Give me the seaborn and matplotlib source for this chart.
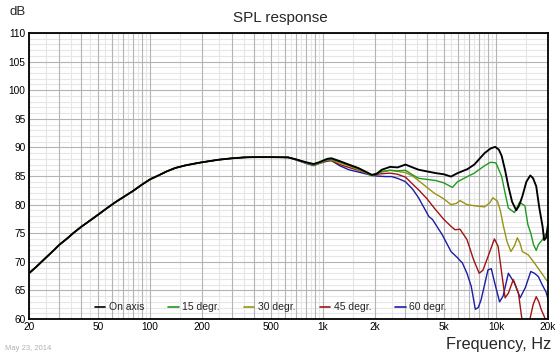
import numpy as np
import pandas as pd
import matplotlib
matplotlib.use("Agg")
import matplotlib.pyplot as plt
import seaborn as sns
from matplotlib.ticker import FixedLocator, NullFormatter
from matplotlib.lines import Line2D

# ---------------- data ----------------
series_names = ["On axis", "15 degr.", "30 degr.", "45 degr.", "60 degr."]
series_colors = ["#000000", "#1e9a1e", "#9a9212", "#9e1414", "#1c1ca6"]

freq_common = [20, 22, 25, 28, 30, 33, 36, 40, 45, 50, 56, 63, 71, 80, 90, 100,
               112, 125, 140, 160, 180, 200, 250, 300, 350, 400, 500, 630]
db_common = [68.0, 69.1, 70.7, 72.1, 73.0, 74.0, 75.0, 76.1, 77.2, 78.2, 79.3,
             80.4, 81.4, 82.4, 83.5, 84.4, 85.1, 85.8, 86.4, 86.85, 87.15, 87.4,
             87.85, 88.1, 88.25, 88.3, 88.3, 88.25]

freq_on = [700, 800, 884, 950, 1060, 1120, 1250, 1410, 1600, 1920, 2050, 2190,
           2450, 2700, 3000, 3300, 3570, 4000, 4500, 5000, 5500, 6000, 6840,
           7500, 8600, 9300, 9900, 10400, 10800, 11300, 11800, 12400, 13100,
           13600, 14200, 15000, 15800, 16400, 17100, 17800, 18600, 19000,
           19500, 20000]
db_on = [87.9, 87.4, 87.1, 87.4, 88.0, 88.1, 87.6, 87.0, 86.4, 85.2, 85.4, 86.1,
         86.6, 86.5, 87.0, 86.5, 86.1, 85.8, 85.5, 85.3, 84.9, 85.5, 86.2,
         87.0, 89.0, 89.8, 90.1, 89.6, 88.5, 86.0, 83.2, 80.5, 79.0,
         79.8, 81.4, 84.0, 85.1, 84.6, 83.2, 79.5, 76.2, 73.8,
         74.2, 76.5]

freq_15 = [700, 800, 884, 950, 1060, 1120, 1250, 1410, 1600, 1920, 2050, 2190,
           2450, 2700, 3000, 3300, 3570, 4000, 4500, 5000, 5600, 6000, 6840,
           7500, 8600, 9300, 10000, 10800, 11300, 11800, 12800, 13700, 14700,
           15300, 15900, 16500, 17100, 17600, 18600, 19300, 20000]
db_15 = [87.9, 87.3, 87.0, 87.3, 87.9, 87.9, 87.5, 86.9, 86.3, 85.1, 85.5, 85.8,
         86.0, 85.9, 86.0, 85.2, 84.6, 84.4, 84.2, 83.8, 83.0, 84.0, 84.9,
         85.5, 86.8, 87.4, 87.3, 84.9, 82.0, 79.4, 78.6, 80.4, 79.8,
         76.5, 75.0, 73.0, 72.0, 73.0, 73.9, 74.8, 75.2]

freq_30 = [700, 800, 884, 950, 1060, 1120, 1250, 1410, 1600, 1920, 2050, 2190,
           2450, 2700, 3000, 3300, 3570, 4000, 4400, 5000, 5500, 5900, 6200,
           6800, 7500, 8600, 9200, 9600, 10200, 10600, 11000, 11600, 12200,
           12800, 13300, 13800, 14200, 15400, 16500, 17800, 19500, 20000]
db_30 = [87.9, 87.3, 86.9, 87.2, 87.8, 87.8, 87.3, 86.8, 86.1, 85.1, 85.4, 85.7,
         86.0, 85.8, 85.6, 85.0, 84.2, 83.0, 82.0, 81.0, 80.0, 80.2, 80.7,
         80.0, 79.8, 79.6, 80.3, 81.2, 80.6, 79.0, 76.5, 73.5, 71.8,
         72.8, 74.2, 73.2, 71.8, 71.2, 70.0, 68.6, 66.9, 66.5]

freq_45 = [700, 800, 884, 950, 1060, 1120, 1250, 1410, 1600, 1920, 2050, 2190,
           2450, 2700, 3000, 3400, 3570, 4000, 4400, 5000, 5500, 5800, 6200,
           6800, 7400, 8000, 8400, 9000, 9800, 10300, 10800, 11300, 11800,
           12600, 13500, 14100, 14800, 15600, 16400, 17100, 17700, 18300,
           19000, 19500, 20000]
db_45 = [87.9, 87.3, 86.9, 87.2, 87.7, 87.7, 87.0, 86.5, 86.0, 85.1, 85.3, 85.4,
         85.5, 85.3, 84.8, 83.2, 82.6, 81.0, 79.4, 77.4, 76.2, 75.6, 75.7,
         73.9, 70.5, 68.0, 68.5, 70.9, 74.0, 72.7, 68.0, 63.7, 64.5,
         66.9, 64.5, 60.2, 58.5, 59.5, 62.5, 63.9, 63.0, 61.6,
         60.5, 59.5, 59.0]

freq_60 = [700, 800, 884, 950, 1060, 1120, 1250, 1410, 1600, 1920, 2050, 2300,
           2500, 2750, 3000, 3300, 3570, 4100, 4300, 4900, 5500, 6000, 6400,
           6800, 7200, 7600, 7900, 8200, 9000, 9400, 9900, 10500, 11000,
           11800, 12800, 13800, 14800, 15900, 16700, 17600, 18500, 19500,
           20000]
db_60 = [87.8, 87.2, 86.8, 87.2, 87.6, 87.7, 86.8, 86.1, 85.7, 85.1, 85.0, 84.9,
         84.9, 84.5, 84.0, 82.7, 81.2, 77.9, 77.4, 74.7, 71.8, 70.7, 69.8,
         68.0, 65.7, 61.7, 62.0, 63.3, 68.6, 68.8, 66.0, 63.0, 64.0,
         68.0, 66.3, 63.7, 65.5, 68.3, 68.0, 67.4, 66.0, 64.7,
         63.5]

x_tick_values = [20, 50, 100, 200, 500, 1000, 2000, 5000, 10000, 20000]
x_tick_labels = ["20", "50", "100", "200", "500", "1k", "2k", "5k", "10k", "20k"]
y_tick_values = [60, 65, 70, 75, 80, 85, 90, 95, 100, 105, 110]

# ---------------- build table ----------------
series_freqs = [freq_on, freq_15, freq_30, freq_45, freq_60]
series_dbs = [db_on, db_15, db_30, db_45, db_60]
frames = []
for name, fr, db in zip(series_names, series_freqs, series_dbs):
    frames.append(pd.DataFrame({"freq": list(freq_common) + list(fr),
                                "db": list(db_common) + list(db),
                                "series": name}))
df = pd.concat(frames, ignore_index=True)

# ---------------- plot ----------------
sns.set_style("white")
plt.rcParams["font.family"] = ["Liberation Sans", "DejaVu Sans"]

fig = plt.figure(figsize=(5.6, 3.56), dpi=100)
ax = fig.add_axes([29 / 560, 1 - 319 / 356, 519 / 560, 286 / 356])

# grid lines
ax.set_xscale("log")
major_x = []
minor_x = []
for dec in [10, 100, 1000, 10000]:
    for m in range(1, 10):
        v = m * dec
        if 20 <= v <= 20000:
            major_x.append(v)
        vm = (m + 0.5) * dec
        if 20 < vm < 20000:
            minor_x.append(vm)
for v in minor_x:
    ax.axvline(v, color="#e6e6e6", lw=0.8, zorder=0)
for v in major_x:
    ax.axvline(v, color="#b4b4b4", lw=0.8, zorder=0.5)
for v in range(60, 111):
    if v % 5 != 0:
        ax.axhline(v, color="#e6e6e6", lw=0.8, zorder=0)
for v in y_tick_values:
    ax.axhline(v, color="#b4b4b4", lw=0.8, zorder=0.5)

palette = dict(zip(series_names, series_colors))
sns.lineplot(data=df, x="freq", y="db", hue="series", hue_order=series_names[::-1],
             palette=palette, estimator=None, sort=False, lw=1.0, ax=ax,
             legend=False, zorder=2)
for l in ax.get_lines():
    if len(l.get_xdata()) > 2 and matplotlib.colors.to_hex(l.get_color()) == "#000000":
        l.set_linewidth(1.35)
        l.set_zorder(3)

ax.set_xlim(20, 20000)
ax.set_ylim(60, 110)
ax.xaxis.set_major_locator(FixedLocator(x_tick_values))
ax.set_xticklabels(x_tick_labels)
ax.xaxis.set_minor_locator(FixedLocator([]))
ax.xaxis.set_minor_formatter(NullFormatter())
ax.set_yticks(y_tick_values)
ax.tick_params(axis="both", length=0, labelsize=7.3, colors="#000000", pad=2.5)
ax.set_xlabel("")
ax.set_ylabel("")
for s in ax.spines.values():
    s.set_color("#000000")
    s.set_linewidth(1.3)

# legend
handles = [Line2D([], [], color=c, lw=1.2) for c in series_colors]
leg = ax.legend(handles, series_names, loc="lower center", ncol=5,
                bbox_to_anchor=(0.466, -0.01), frameon=False, fontsize=7.5,
                handlelength=1.0, handletextpad=0.35, columnspacing=2.3)

fig.text(280 / 560, 1 - 18 / 356, "SPL response", ha="center", va="center",
         fontsize=11)
fig.text(10 / 560, 1 - 12 / 356, "dB", ha="left", va="center", fontsize=9.5)
fig.text(551 / 560, 1 - 344 / 356, "Frequency, Hz", ha="right", va="center",
         fontsize=11.8)
fig.text(5 / 560, 1 - 349 / 356, "May 23, 2014", ha="left", va="center",
         fontsize=5.5, color="#b0b0b0")

fig.savefig("out.png", dpi=100)
